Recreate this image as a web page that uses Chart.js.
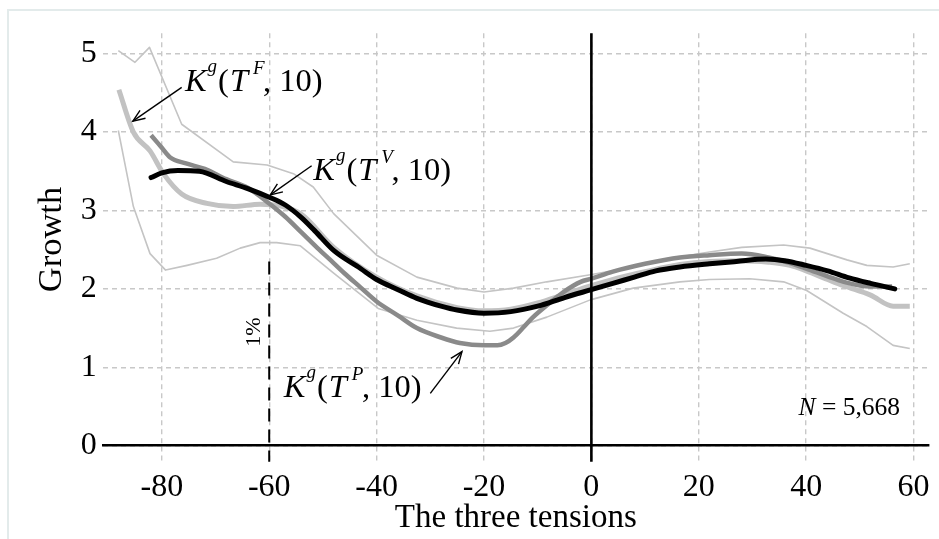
<!DOCTYPE html>
<html><head><meta charset="utf-8">
<script src="https://cdn.jsdelivr.net/npm/chart.js@4.4.1/dist/chart.umd.min.js"></script>
<style>html,body{margin:0;padding:0;background:#fff;}canvas{display:block;}</style>
</head><body>
<canvas id="c" width="939" height="539"></canvas>
<script>
// ---- data ----
const xTicks = [-80, -60, -40, -20, 0, 20, 40, 60];
const yTicks = [0, 1, 2, 3, 4, 5];

// K^g(T^V,10) – black
const vX = [-82, -80, -77, -73, -68, -64, -60, -57, -54, -51.5, -48, -43, -40, -36, -32.5, -28, -25, -20, -15, -10, -5, 0, 4, 8, 12, 16.5, 22, 27, 32.5, 36, 40, 44, 48, 52, 56.5];
const vY = [3.42, 3.48, 3.51, 3.50, 3.37, 3.28, 3.17, 3.07, 2.91, 2.74, 2.49, 2.26, 2.12, 1.99, 1.88, 1.78, 1.73, 1.69, 1.71, 1.78, 1.89, 1.99, 2.07, 2.15, 2.23, 2.28, 2.32, 2.35, 2.38, 2.36, 2.30, 2.23, 2.14, 2.07, 2.00];

// K^g(T^P,10) – medium grey
const pX = [-82, -80, -78.5, -75.5, -72, -68, -64, -60, -57, -54, -51, -48, -46, -43, -40, -36, -32.5, -28, -24.5, -20, -17.5, -16, -14.5, -12.5, -11, -8.3, -5.2, -2, 0, 4, 10, 16.5, 22, 28, 33, 37, 40, 44, 47, 52, 56];
const pY = [3.96, 3.80, 3.68, 3.60, 3.53, 3.40, 3.29, 3.09, 2.92, 2.72, 2.52, 2.33, 2.20, 2.02, 1.84, 1.66, 1.50, 1.38, 1.31, 1.28, 1.28, 1.31, 1.38, 1.52, 1.63, 1.79, 1.96, 2.09, 2.13, 2.22, 2.32, 2.40, 2.43, 2.45, 2.40, 2.33, 2.26, 2.16, 2.09, 2.03, 2.03];

// K^g(T^F,10) – light grey
const fX = [-88, -85.3, -82.2, -79.7, -76.3, -71.6, -66.7, -61.7, -58, -54, -48, -40, -32.5, -25, -20, -15, -10, -5, 0, 5, 10, 16.5, 22, 28, 33, 37, 40, 44, 47, 52, 56.2, 59.3];
const fY = [4.54, 4.00, 3.76, 3.47, 3.21, 3.09, 3.05, 3.08, 3.06, 2.95, 2.53, 2.15, 1.91, 1.76, 1.72, 1.74, 1.82, 1.93, 2.04, 2.14, 2.22, 2.31, 2.35, 2.36, 2.34, 2.30, 2.23, 2.12, 2.04, 1.92, 1.78, 1.78];

// thin band – upper
const upX = [-88.1, -85, -82.3, -76.3, -66.7, -60.4, -55.5, -51.8, -48, -40, -32.5, -25, -20, -14.5, -8.3, -0.2, 7.8, 16.5, 22, 28, 35.8, 40.7, 47.6, 51.3, 56.2, 59.3];
const upY = [5.04, 4.89, 5.08, 4.10, 3.62, 3.58, 3.47, 3.30, 2.96, 2.43, 2.15, 2.01, 1.96, 2.01, 2.09, 2.18, 2.28, 2.41, 2.47, 2.53, 2.56, 2.52, 2.37, 2.30, 2.28, 2.32];

// thin band – lower
const loX = [-88.1, -85.3, -82.2, -79.3, -75.3, -69.8, -65.4, -61.7, -58.6, -54.2, -48, -39.7, -32.5, -25.1, -18.9, -14.5, -8.3, -0.2, 7.8, 16.5, 22, 29.5, 35.8, 40.1, 46.9, 51.3, 56.2, 59.3];
const loY = [4.02, 3.05, 2.45, 2.24, 2.30, 2.39, 2.52, 2.59, 2.59, 2.55, 2.20, 1.75, 1.60, 1.50, 1.46, 1.50, 1.64, 1.86, 2.01, 2.09, 2.12, 2.13, 2.09, 1.98, 1.69, 1.52, 1.28, 1.24];

const serif = '"Liberation Serif","Times New Roman",serif';
const pts = (xs, ys) => xs.map((x, i) => ({x, y: ys[i]}));

// annotation anchors (data coordinates)
const notes = [
  {sup: 'F', at: [-75.7, 4.53], from: [-76.3, 4.57], to: [-85.4, 4.14]},
  {sup: 'V', at: [-51.8, 3.39], from: [-52.1, 3.57], to: [-59.8, 3.20]},
  {sup: 'P', at: [-57.3, 0.625], from: [-30.0, 0.668], to: [-24.1, 1.20]}
];
const cutoffX = -60, cutoffTop = 2.35;
const pctLabel = {text: '1%', at: [-62.8, 1.45]};
const nLabel = {at: [57.5, 0.39]};

function drawK(ctx, x, y, sup) {
  const big = 32.5, small = 19;
  let cx = x;
  ctx.textAlign = 'left'; ctx.textBaseline = 'alphabetic'; ctx.fillStyle = '#000';
  ctx.font = `italic ${big}px ${serif}`; ctx.fillText('K', cx, y); cx += ctx.measureText('K').width + 1;
  ctx.font = `italic ${small}px ${serif}`; ctx.fillText('g', cx, y - 19); cx += ctx.measureText('g').width + 1;
  ctx.font = `${big}px ${serif}`; ctx.fillText('(', cx, y); cx += ctx.measureText('(').width + 1;
  ctx.font = `italic ${big}px ${serif}`; ctx.fillText('T', cx, y); cx += ctx.measureText('T').width + 5;
  ctx.font = `italic ${small}px ${serif}`; ctx.fillText(sup, cx, y - 17); cx += ctx.measureText(sup).width - 1.5;
  ctx.font = `${big}px ${serif}`; ctx.fillText(', 10)', cx, y);
}
function arrow(ctx, x1, y1, x2, y2) {
  const a = Math.atan2(y2 - y1, x2 - x1), L = 13, w = 0.38;
  ctx.strokeStyle = '#000'; ctx.lineWidth = 1.4; ctx.setLineDash([]);
  ctx.beginPath(); ctx.moveTo(x1, y1); ctx.lineTo(x2, y2); ctx.stroke();
  ctx.beginPath();
  ctx.moveTo(x2 - L * Math.cos(a - w), y2 - L * Math.sin(a - w));
  ctx.lineTo(x2, y2);
  ctx.lineTo(x2 - L * Math.cos(a + w), y2 - L * Math.sin(a + w));
  ctx.stroke();
}

const overlay = {
  id: 'overlay',
  beforeDraw(chart) {
    const ctx = chart.ctx;
    ctx.save();
    ctx.fillStyle = '#e3ebeb';
    ctx.fillRect(7, 9, 939, 2);
    ctx.fillRect(7, 9, 2, 539);
    ctx.restore();
  },
  afterDatasetsDraw(chart) {
    const {ctx, scales: {x, y}, chartArea} = chart;
    ctx.save();
    // zero line
    const x0 = x.getPixelForValue(0);
    ctx.strokeStyle = '#000'; ctx.lineWidth = 2.6;
    ctx.beginPath(); ctx.moveTo(x0, chartArea.top); ctx.lineTo(x0, chartArea.bottom + 16); ctx.stroke();
    // cutoff dashed line
    const xc = x.getPixelForValue(cutoffX);
    ctx.lineWidth = 2; ctx.setLineDash([13, 8]);
    ctx.beginPath(); ctx.moveTo(xc, y.getPixelForValue(cutoffTop)); ctx.lineTo(xc, chartArea.bottom + 16); ctx.stroke();
    ctx.setLineDash([]);
    // 1%
    ctx.save();
    ctx.translate(x.getPixelForValue(pctLabel.at[0]), y.getPixelForValue(pctLabel.at[1]));
    ctx.rotate(-Math.PI / 2);
    ctx.font = `22px ${serif}`; ctx.fillStyle = '#000'; ctx.textAlign = 'center'; ctx.textBaseline = 'middle';
    ctx.fillText(pctLabel.text, 0, 0);
    ctx.restore();
    // labels & arrows
    notes.forEach(n => {
      drawK(ctx, x.getPixelForValue(n.at[0]), y.getPixelForValue(n.at[1]), n.sup);
      arrow(ctx, x.getPixelForValue(n.from[0]), y.getPixelForValue(n.from[1]), x.getPixelForValue(n.to[0]), y.getPixelForValue(n.to[1]));
    });
    // N
    const nx = x.getPixelForValue(nLabel.at[0]), ny = y.getPixelForValue(nLabel.at[1]);
    ctx.textBaseline = 'alphabetic'; ctx.textAlign = 'right'; ctx.fillStyle = '#000';
    ctx.font = `25.5px ${serif}`;
    const rest = ' = 5,668';
    ctx.fillText(rest, nx, ny);
    const rw = ctx.measureText(rest).width;
    ctx.font = `italic 25.5px ${serif}`;
    ctx.fillText('N', nx - rw, ny);
    ctx.restore();
  }
};

const thick = (data, color, w, order, cap) => ({
  data, borderColor: color, borderWidth: w, pointRadius: 0, fill: false,
  cubicInterpolationMode: 'monotone', borderJoinStyle: 'round', borderCapStyle: cap || 'butt', order
});
const thin = (data, order) => ({
  data, borderColor: '#c4c4c4', borderWidth: 1.6, pointRadius: 0, fill: false, tension: 0, borderJoinStyle: 'round', order
});

new Chart(document.getElementById('c'), {
  type: 'line',
  data: {
    datasets: [
      thick(pts(vX, vY), '#000000', 5, 0, 'round'),
      thick(pts(pX, pY), '#8a8a8a', 4.5, 1),
      thick(pts(fX, fY), '#c2c2c2', 5, 2),
      thin(pts(upX, upY), 3),
      thin(pts(loX, loY), 4)
    ]
  },
  options: {
    responsive: false, animation: false, devicePixelRatio: 1,
    layout: {padding: {left: 0, right: 10.7, top: 33.3, bottom: 0}},
    plugins: {legend: {display: false}, tooltip: {enabled: false}},
    scales: {
      x: {
        type: 'linear', min: -90.9, max: 62.75,
        afterBuildTicks: s => { s.ticks = xTicks.map(v => ({value: v})); },
        afterFit: s => { s.height = 93.3; },
        grid: {color: '#c8c8c8', lineWidth: 1.4, drawTicks: true, tickLength: 16, tickColor: '#c8c8c8', tickWidth: 1.4, tickBorderDash: [5, 4]},
        border: {display: true, color: '#000', width: 2.6, dash: [5, 4]},
        ticks: {font: {family: serif, size: 32}, color: '#000', padding: 6.5, maxRotation: 0, autoSkip: false, callback: v => String(v)},
        title: {display: true, text: 'The three tensions', font: {family: serif, size: 33}, color: '#000', padding: {top: 0, bottom: 1}}
      },
      y: {
        type: 'linear', min: 0, max: 5.26,
        afterBuildTicks: s => { s.ticks = yTicks.map(v => ({value: v})); },
        afterFit: s => { s.width = 103.3; },
        grid: {color: '#c8c8c8', lineWidth: 1.4, drawTicks: false},
        border: {display: false, dash: [5, 4]},
        ticks: {font: {family: serif, size: 32}, color: '#000', padding: 6.5, callback: v => String(v)},
        title: {display: true, text: 'Growth', font: {family: serif, size: 34.5}, color: '#000', padding: {top: 31, bottom: 0}}
      }
    }
  },
  plugins: [overlay]
});
</script>
</body></html>
